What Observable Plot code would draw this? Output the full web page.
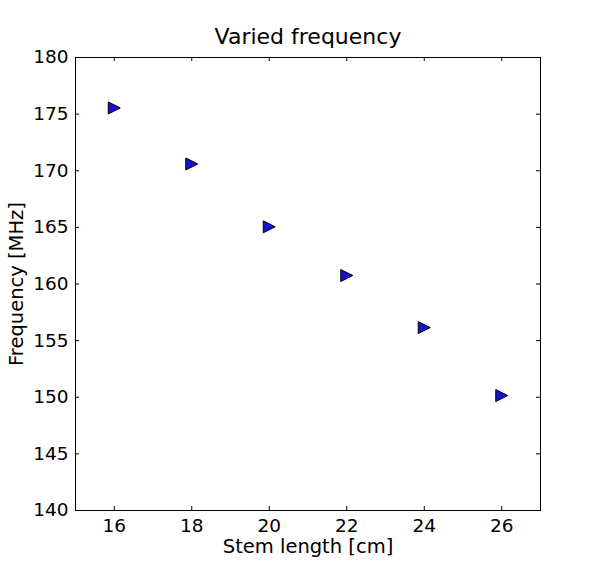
<!DOCTYPE html>
<html>
<head>
<meta charset="utf-8">
<script src="https://cdn.jsdelivr.net/npm/d3@7"></script>
<script src="https://cdn.jsdelivr.net/npm/@observablehq/plot@0.6"></script>
<style>
  body { margin: 0; background: #fff; }
  svg { font-family: "DejaVu Sans", sans-serif; }
</style>
</head>
<body>
<div id="chart"></div>
<script>
const title = "Varied frequency";
const xLabel = "Stem length [cm]";
const yLabel = "Frequency [MHz]";
const stemLength = [16, 18, 20, 22, 24, 26];
const frequency = [175.55, 170.6, 165.05, 160.75, 156.15, 150.15];
const xTicks = [16, 18, 20, 22, 24, 26];
const yTicks = [140, 145, 150, 155, 160, 165, 170, 175, 180];
const xDomain = [15, 27];
const yDomain = [140, 180];

const data = stemLength.map((x, i) => ({x, y: frequency[i]}));

const W = 600, H = 567;
const mL = 75, mR = 60, mT = 57, mB = 57;
const pw = W - mL - mR, ph = H - mT - mB;
const tickLen = 4;

const triangleRight = {
  draw(context, size) {
    const r = Math.sqrt(size / Math.PI);
    context.moveTo(r, 0);
    context.lineTo(-r, -r);
    context.lineTo(-r, r);
    context.closePath();
  }
};

const chart = Plot.plot({
  width: W,
  height: H,
  marginLeft: mL,
  marginRight: mR,
  marginTop: mT,
  marginBottom: mB,
  style: {fontFamily: "DejaVu Sans, sans-serif", fontSize: "18.5px", background: "white", color: "black"},
  x: {domain: xDomain},
  y: {domain: yDomain},
  marks: [
    Plot.frame({stroke: "black", strokeWidth: 1}),
    Plot.tickX(xTicks, {x: d => d, insetTop: ph - tickLen, stroke: "black"}),
    Plot.tickX(xTicks, {x: d => d, insetBottom: ph - tickLen, stroke: "black"}),
    Plot.tickY(yTicks, {y: d => d, insetRight: pw - tickLen, stroke: "black"}),
    Plot.tickY(yTicks, {y: d => d, insetLeft: pw - tickLen, stroke: "black"}),
    Plot.axisX({ticks: xTicks, tickSize: 0, tickPadding: 8, fontSize: 18.5, label: null, tickFormat: d => String(d)}),
    Plot.axisY({ticks: yTicks, tickSize: 0, tickPadding: 7, fontSize: 18.5, label: null, tickFormat: d => String(d)}),
    Plot.dot(data, {x: "x", y: "y", symbol: triangleRight, r: 6, fill: "#1a0fd6", stroke: "black", strokeWidth: 1}),
    Plot.text([xLabel], {text: d => d, frameAnchor: "bottom", lineAnchor: "middle", textAnchor: "middle", dy: 36, fontSize: 19.5, fill: "black"}),
    Plot.text([yLabel], {text: d => d, frameAnchor: "left", lineAnchor: "middle", textAnchor: "middle", dx: -59, rotate: -90, fontSize: 19.5, fill: "black"}),
    Plot.text([title], {text: d => d, frameAnchor: "top", lineAnchor: "middle", textAnchor: "middle", dy: -21, fontSize: 22, fill: "black"})
  ]
});
document.getElementById("chart").appendChild(chart);
</script>
</body>
</html>
